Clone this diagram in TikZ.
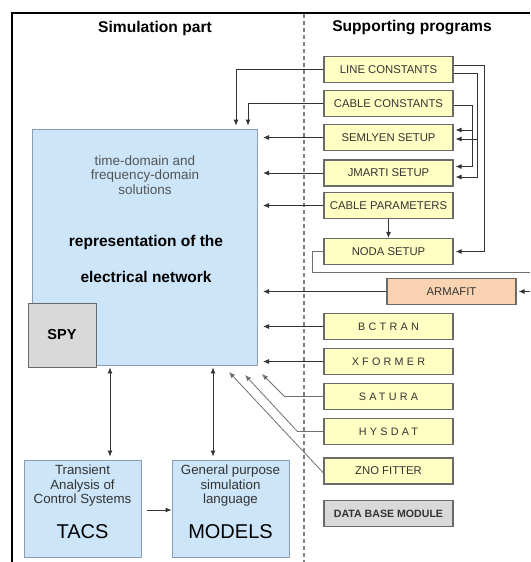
\documentclass[tikz,border=0pt]{standalone}
\usepackage{fontspec}
\setmainfont{Liberation Sans}
\usetikzlibrary{arrows.meta,calc}
\definecolor{yfill}{HTML}{FFFFC4}
\definecolor{bfill}{HTML}{CCE5F8}
\definecolor{bline}{HTML}{8A9DB2}
\definecolor{ofill}{HTML}{FAD3B2}
\definecolor{gfill}{HTML}{D9D9D9}
\definecolor{boxline}{HTML}{6A6A6A}
\definecolor{conncol}{HTML}{333333}
\definecolor{lightconn}{HTML}{707070}
\definecolor{txtgray}{HTML}{333333}
\definecolor{softtxt}{HTML}{555555}
\tikzset{
  ybox/.style={draw=boxline, fill=yfill, line width=1.1pt, minimum width=129pt, minimum height=26pt, inner sep=1pt, text=txtgray, font=\fontsize{11.3}{12}\selectfont},
  obox/.style={ybox, fill=ofill},
  gbox/.style={ybox, fill=gfill, font=\fontsize{10.6}{11}\selectfont\bfseries, text=txtgray},
  spaced/.style={font=\fontsize{10.8}{12}\selectfont\addfontfeature{LetterSpace=30}},
  bluebox/.style={draw=bline, fill=bfill, line width=0.8pt},
  conn/.style={draw=conncol, line width=0.9pt},
  lconn/.style={draw=lightconn, line width=0.8pt},
  arr/.style={conn, -{Latex[length=6pt,width=5pt]}},
  larr/.style={lconn, -{Latex[length=6pt,width=5pt]}},
  dbl/.style={conn, {Latex[length=6pt,width=5pt]}-{Latex[length=6pt,width=5pt]}},
  title/.style={font=\fontsize{15.6}{17}\selectfont\bfseries},
}
\begin{document}
\begin{tikzpicture}[x=1pt,y=-1pt]
\useasboundingbox (0,0) rectangle (530,562);
\fill[white] (0,0) rectangle (530,562);
% frame and divider
\draw[line width=2pt] (12,562) -- (12,13) -- (530,13);
\draw[draw=gray, line width=1.4pt, dash pattern=on 4pt off 3pt] (304,14) -- (304,562);
% titles
\node[title] (t1) at (155,28) {Simulation part};
\node[title] (t2) at (412,28) {Supporting programs};
% main box
\node[bluebox, minimum width=225pt, minimum height=236pt] (main) at (144.5,247) {};
\node[text=softtxt, align=center, font=\fontsize{13.5}{14.5}\selectfont] (sol) at (145,175) {time-domain and\\frequency-domain\\solutions};
\node[font=\fontsize{15.5}{17}\selectfont\bfseries] (rep1) at (146,242) {representation of the};
\node[font=\fontsize{15.5}{17}\selectfont\bfseries] (rep2) at (146,277) {electrical network};
\node[draw=boxline, fill=gfill, line width=1pt, minimum width=68pt, minimum height=64pt, font=\fontsize{14.5}{16}\selectfont\bfseries] (spy) at (62,335) {SPY};
% TACS and MODELS
\node[bluebox, minimum width=117pt, minimum height=97pt] (tacs) at (82.5,508.5) {};
\node[bluebox, minimum width=117pt, minimum height=97pt] (models) at (230.5,508.5) {};
\node[align=center, font=\fontsize{13.3}{14.5}\selectfont, text=txtgray] (tacsT) at (82.5,486) {Transient\\Analysis of\\Control Systems};
\node[font=\fontsize{20}{22}\selectfont] (tacsN) at (82.5,532) {TACS};
\node[align=center, font=\fontsize{13.3}{14.5}\selectfont, text=txtgray] (modT) at (230.5,486) {General purpose\\simulation\\language};
\node[font=\fontsize{20}{22}\selectfont] (modN) at (230.5,532) {MODELS};
% supporting programs
\node[ybox] (lc) at (388.5,69.5) {LINE CONSTANTS};
\node[ybox] (cc) at (388.5,103.5) {CABLE CONSTANTS};
\node[ybox] (sem) at (388.5,137.5) {SEMLYEN SETUP};
\node[ybox] (jm) at (388.5,173) {JMARTI SETUP};
\node[ybox] (cp) at (388.5,205.5) {CABLE PARAMETERS};
\node[ybox] (noda) at (388.5,251.5) {NODA SETUP};
\node[obox] (arm) at (451.5,291.5) {ARMAFIT};
\node[ybox, spaced] (bct) at (388.5,326.5) {BCTRAN};
\node[ybox, spaced] (xf) at (388.5,361.5) {XFORMER};
\node[ybox, spaced] (sat) at (388.5,396.5) {SATURA};
\node[ybox, spaced] (hys) at (388.5,431.5) {HYSDAT};
\node[ybox] (zno) at (388.5,471) {ZNO FITTER};
\node[gbox] (db) at (388.5,513.5) {DATA BASE MODULE};
% helper coordinates
\coordinate (rx) at (263,0);
\coordinate (xa) at (236,0);
\coordinate (xb) at (248,0);
\coordinate (vA) at (484,0);
\coordinate (vB) at (477,0);
\coordinate (vC) at (472,0);
\coordinate (c1) at (110,0);
\coordinate (c2) at (213,0);
\coordinate (eS) at (262,374);
\coordinate (eH) at (245,375);
\coordinate (eZ) at (229,372);
\coordinate (nodaout) at (530,272);
\coordinate (armin) at (530,291.5);
% connectors into main box
\draw[arr] (lc.west) -| ([yshift=3pt]main.north -| xa);
\draw[arr] (cc.west) -| ([yshift=3pt]main.north -| xb);
\draw[arr] (sem.west) -- (sem.west -| rx);
\draw[arr] (jm.west) -- (jm.west -| rx);
\draw[arr] (cp.west) -- (cp.west -| rx);
\draw[arr] (arm.west) -- (arm.west -| rx);
\draw[arr] (bct.west) -- (bct.west -| rx);
\draw[arr] (xf.west) -- (xf.west -| rx);
\draw[larr] (sat.west) -- ++(-39,0) -- (eS);
\draw[larr] (hys.west) -- ++(-26,0) -- (eH);
\draw[larr] ([yshift=-2pt]zno.west) -- (eZ);
% right-side connectors
\draw[arr] ([yshift=4.5pt]lc.east) -| (vA |- noda.east) -- ([xshift=2pt]noda.east);
\draw[arr] ([yshift=-3.5pt]lc.east) -| ([yshift=-4pt]jm.east -| vB) -- ([xshift=2pt,yshift=-4pt]jm.east);
\draw[arr] ([yshift=-1.5pt]sem.east -| vB) -- ([xshift=2pt,yshift=-1.5pt]sem.east);
\draw[arr] ([yshift=-1.5pt]cc.east) -| ([yshift=6.5pt]jm.east -| vC) -- ([xshift=2pt,yshift=6.5pt]jm.east);
\draw[arr] ([yshift=7.5pt]sem.east -| vC) -- ([xshift=2pt,yshift=7.5pt]sem.east);
\draw[arr] (cp.south) -- (noda.north);
\draw[lconn] (noda.west) -- ++(-11,0) |- (nodaout);
\draw[arr] (armin) -- ([xshift=2pt]arm.east);
% bottom connectors
\draw[dbl] ([yshift=-2pt]main.south -| c1) -- ([yshift=3pt]tacs.north -| c1);
\draw[dbl] ([yshift=-2pt]main.south -| c2) -- ([yshift=3pt]models.north -| c2);
\draw[arr] ([xshift=6pt,yshift=-1.5pt]tacs.east) -- ([yshift=-1.5pt]models.west);
\end{tikzpicture}
\end{document}
